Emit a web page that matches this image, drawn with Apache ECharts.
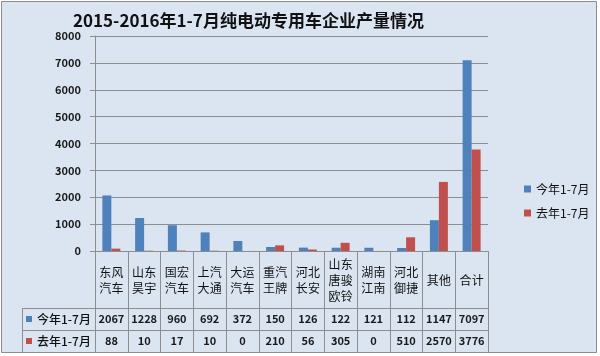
<!DOCTYPE html>
<html><head><meta charset="utf-8">
<script src="https://cdn.jsdelivr.net/npm/echarts@6/dist/echarts.min.js"></script>
<style>html,body{margin:0;padding:0;background:#fff}#c{width:600px;height:356px}</style>
</head><body><div id="c"></div>
<script>
const titleText = '2015-2016年1-7月纯电动专用车企业产量情况';
const categories = ['东风\n汽车','山东\n昊宇','国宏\n汽车','上汽\n大通','大运\n汽车','重汽\n王牌','河北\n长安','山东\n唐骏\n欧铃','湖南\n江南','河北\n御捷','其他','合计'];
const seriesNames = ['今年1-7月','去年1-7月'];
const thisYear = [2067,1228,960,692,372,150,126,122,121,112,1147,7097];
const lastYear = [88,10,17,10,0,210,56,305,0,510,2570,3776];
const yMin = 0, yMax = 8000, yInterval = 1000;

const colors = ['#4f81bd', '#c0504d'];
const lineColor = '#8e8e8e';
const font = '"Noto Sans CJK SC", "Noto Sans", sans-serif';
const G = {left: 95, top: 36, width: 393, height: 215};
const rowCat = 57, rowH = 22, tableLeft = 22;
const gBottom = G.top + G.height;

const chart = echarts.init(document.getElementById('c'), null, {renderer: 'canvas'});

function rowAxis(data, offset, showLabel) {
  return {
    type: 'category', data: data, position: 'bottom', offset: offset,
    axisLine: {show: true, lineStyle: {color: lineColor, width: 1}},
    axisTick: {show: false},
    axisLabel: {show: showLabel, interval: 0, margin: rowH / 2, verticalAlign: 'middle',
      fontFamily: font, fontSize: 11, fontWeight: 'bold', color: '#1a1a1a'},
    splitLine: {show: false}
  };
}

const graphics = [
  {type: 'rect', z: -100, silent: true, shape: {x: 1.5, y: 1.5, width: 595, height: 351},
   style: {fill: '#dbe5f1', stroke: '#8c8c8c', lineWidth: 1}}
];
[0, 1].forEach(i => {
  const y0 = gBottom + rowCat + i * rowH;
  graphics.push({type: 'line', silent: true, shape: {x1: tableLeft, y1: y0 + 0.5, x2: G.left, y2: y0 + 0.5},
    style: {stroke: lineColor, lineWidth: 1}});
  graphics.push({type: 'rect', silent: true, shape: {x: 26, y: y0 + rowH / 2 - 3, width: 6, height: 6},
    style: {fill: colors[i]}});
  graphics.push({type: 'text', silent: true, x: 37, y: y0 + rowH / 2,
    style: {text: seriesNames[i], fontFamily: font, fontSize: 12, fontWeight: 500, fill: '#111', verticalAlign: 'middle'}});
});
graphics.push({type: 'line', silent: true,
  shape: {x1: tableLeft, y1: gBottom + rowCat + 2 * rowH + 0.5, x2: G.left, y2: gBottom + rowCat + 2 * rowH + 0.5},
  style: {stroke: lineColor, lineWidth: 1}});
graphics.push({type: 'line', silent: true,
  shape: {x1: tableLeft + 0.5, y1: gBottom + rowCat, x2: tableLeft + 0.5, y2: gBottom + rowCat + 2 * rowH},
  style: {stroke: lineColor, lineWidth: 1}});

chart.setOption({
  backgroundColor: '#ffffff',
  animation: false,
  color: colors,
  title: {text: titleText, left: 68, top: 7,
    textStyle: {fontFamily: font, fontSize: 17, fontWeight: 'bold', color: '#111'}},
  legend: {orient: 'vertical', left: 519, top: 177, icon: 'rect', itemWidth: 7, itemHeight: 7, itemGap: 10,
    data: seriesNames,
    textStyle: {fontFamily: font, fontSize: 12, color: '#111', lineHeight: 14}},
  grid: {left: G.left, top: G.top, width: G.width, height: G.height, containLabel: false},
  xAxis: [
    {
      type: 'category', data: categories, position: 'bottom',
      axisLine: {show: true, lineStyle: {color: lineColor, width: 1}},
      axisTick: {show: true, alignWithLabel: false, length: rowCat + 2 * rowH, lineStyle: {color: lineColor}},
      axisLabel: {interval: 0, margin: 29, verticalAlign: 'middle', fontFamily: font, fontSize: 12,
        lineHeight: 16, color: '#111'},
      splitLine: {show: false}
    },
    rowAxis(thisYear.map(String), rowCat, true),
    rowAxis(lastYear.map(String), rowCat + rowH, true),
    rowAxis(lastYear.map(String), rowCat + 2 * rowH, false)
  ],
  yAxis: {
    type: 'value', min: yMin, max: yMax, interval: yInterval,
    axisLine: {show: true, lineStyle: {color: lineColor}},
    axisTick: {show: true, length: 5, lineStyle: {color: lineColor}},
    axisLabel: {margin: 14, fontFamily: font, fontSize: 11, fontWeight: 'bold', color: '#1a1a1a',
      formatter: v => String(v)},
    splitLine: {show: true, lineStyle: {color: lineColor, width: 1}}
  },
  series: [
    {name: seriesNames[0], type: 'bar', xAxisIndex: 0, data: thisYear, barWidth: 9, barGap: '0%'},
    {name: seriesNames[1], type: 'bar', xAxisIndex: 0, data: lastYear, barWidth: 9, barGap: '0%'}
  ],
  graphic: {elements: graphics}
});
</script></body></html>
